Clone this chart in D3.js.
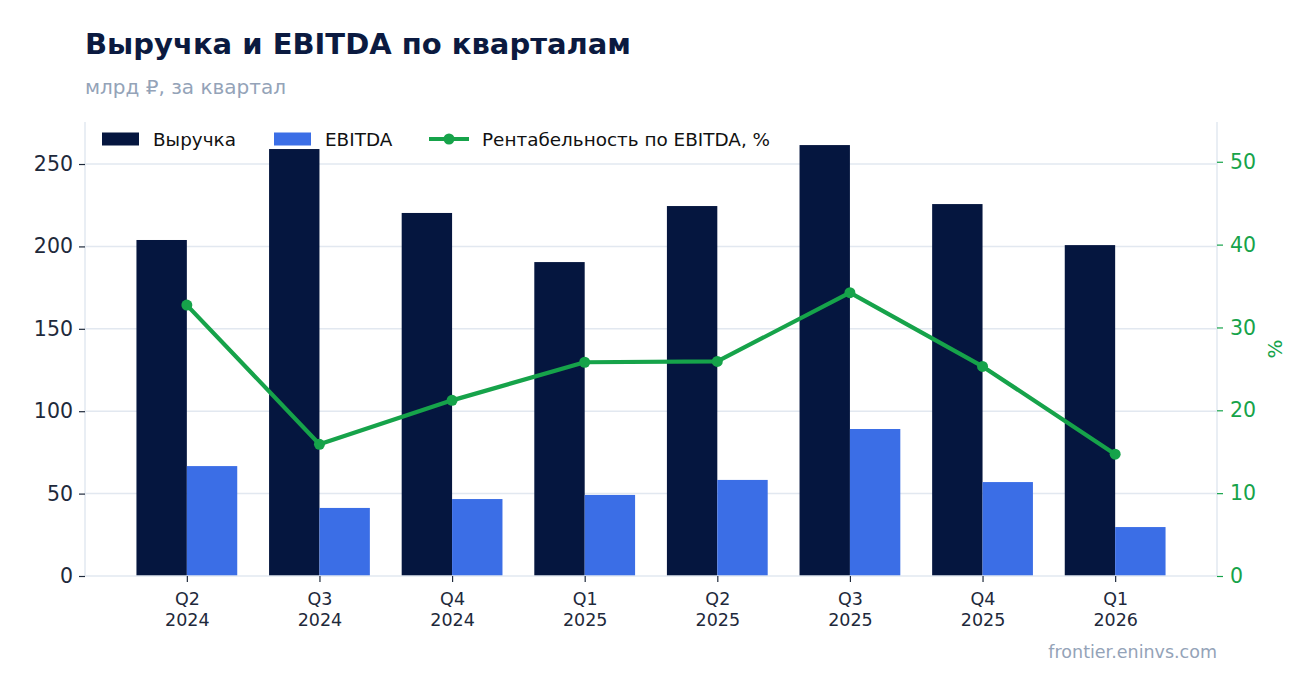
<!DOCTYPE html>
<html>
<head>
<meta charset="utf-8">
<script src="https://cdn.jsdelivr.net/npm/d3@7"></script>
<style>
  html, body { margin: 0; padding: 0; background: #fff; }
  svg { display: block; font-family: "DejaVu Sans", sans-serif; }
</style>
</head>
<body>
<div id="chart"></div>
<script>
// Quarters and values (bn RUB per quarter)
const quarters = ['Q2 2024', 'Q3 2024', 'Q4 2024', 'Q1 2025', 'Q2 2025', 'Q3 2025', 'Q4 2025', 'Q1 2026'];
const revenue = [203.9, 259.1, 220.3, 190.5, 224.5, 261.5, 225.7, 200.8];
const ebitda = [66.7, 41.3, 46.7, 49.2, 58.3, 89.2, 57.0, 29.7];
const margin = [32.7, 15.9, 21.2, 25.8, 25.9, 34.2, 25.3, 14.7];
const leftTicks = [0, 50, 100, 150, 200, 250];
const rightTicks = [0, 10, 20, 30, 40, 50];

const W = 1316, H = 693;
const m = { top: 122, right: 99, bottom: 117, left: 85 };
const iw = W - m.left - m.right;
const ih = H - m.top - m.bottom;

const C = {
  rev: '#05163f',
  ebitda: '#3b6ee6',
  green: '#16a34a',
  grid: '#e2e8f0',
  text: '#1e293b',
  muted: '#94a3b8'
};

const svg = d3.select('#chart').append('svg')
  .attr('width', W)
  .attr('height', H)
  .attr('viewBox', `0 0 ${W} ${H}`);

// Title block
svg.append('text')
  .attr('x', 85).attr('y', 54)
  .attr('font-size', 29).attr('font-weight', 'bold')
  .attr('fill', '#0b1a40')
  .text('Выручка и EBITDA по кварталам');

svg.append('text')
  .attr('x', 85).attr('y', 94)
  .attr('font-size', 20)
  .attr('fill', C.muted)
  .text('млрд ₽, за квартал');

const g = svg.append('g').attr('transform', `translate(${m.left},${m.top})`);

// Scales
const x = d3.scalePoint().domain(quarters).range([0, iw]).padding(0.768);
const step = x.step();
const barW = step * 0.38;

const y = d3.scaleLinear().domain([0, 275.5]).range([ih, 0]);
const y2 = d3.scaleLinear().domain([0, 54.8]).range([ih, 0]);

// Grid
g.append('g').selectAll('line')
  .data(leftTicks.slice(1))
  .enter().append('line')
  .attr('x1', 0).attr('x2', iw)
  .attr('y1', d => y(d)).attr('y2', d => y(d))
  .attr('stroke', C.grid).attr('stroke-width', 1.5);

// Bars
g.append('g').selectAll('rect')
  .data(quarters)
  .enter().append('rect')
  .attr('x', d => x(d) - barW)
  .attr('y', (d, i) => y(revenue[i]))
  .attr('width', barW)
  .attr('height', (d, i) => ih - y(revenue[i]))
  .attr('fill', C.rev);

g.append('g').selectAll('rect')
  .data(quarters)
  .enter().append('rect')
  .attr('x', d => x(d))
  .attr('y', (d, i) => y(ebitda[i]))
  .attr('width', barW)
  .attr('height', (d, i) => ih - y(ebitda[i]))
  .attr('fill', C.ebitda);

// Spines
g.append('line').attr('x1', 0).attr('x2', 0).attr('y1', 0).attr('y2', ih)
  .attr('stroke', C.grid).attr('stroke-width', 1.5);
g.append('line').attr('x1', iw).attr('x2', iw).attr('y1', 0).attr('y2', ih)
  .attr('stroke', C.grid).attr('stroke-width', 1.5);
g.append('line').attr('x1', 0).attr('x2', iw).attr('y1', ih).attr('y2', ih)
  .attr('stroke', C.grid).attr('stroke-width', 1.5);

// Margin line
const line = d3.line()
  .x((d, i) => x(quarters[i]))
  .y(d => y2(d));

g.append('path')
  .datum(margin)
  .attr('d', line)
  .attr('fill', 'none')
  .attr('stroke', C.green)
  .attr('stroke-width', 4.2)
  .attr('stroke-linejoin', 'round');

g.append('g').selectAll('circle')
  .data(margin)
  .enter().append('circle')
  .attr('cx', (d, i) => x(quarters[i]))
  .attr('cy', d => y2(d))
  .attr('r', 5.5)
  .attr('fill', C.green);

// Left axis
const yAxis = g.append('g')
  .call(d3.axisLeft(y).tickValues(leftTicks).tickSize(6).tickPadding(6));
yAxis.select('.domain').remove();
yAxis.selectAll('line').attr('stroke', C.text).attr('stroke-width', 1.2);
yAxis.selectAll('text').attr('font-size', 20.5).attr('fill', C.text)
  .attr('font-family', '"DejaVu Sans", sans-serif');

// Right axis
const y2Axis = g.append('g')
  .attr('transform', `translate(${iw},0)`)
  .call(d3.axisRight(y2).tickValues(rightTicks).tickSize(6).tickPadding(7));
y2Axis.select('.domain').remove();
y2Axis.selectAll('line').attr('stroke', C.green).attr('stroke-width', 1.2);
y2Axis.selectAll('text').attr('font-size', 20.5).attr('fill', C.green)
  .attr('font-family', '"DejaVu Sans", sans-serif');

svg.append('text')
  .attr('transform', `translate(${m.left + iw + 65},${m.top + ih / 2}) rotate(-90)`)
  .attr('text-anchor', 'middle')
  .attr('font-size', 20)
  .attr('fill', C.green)
  .text('%');

// X axis
const xAxis = g.append('g')
  .attr('transform', `translate(0,${ih})`)
  .call(d3.axisBottom(x).tickSize(6).tickPadding(6).tickFormat(''));
xAxis.select('.domain').remove();
xAxis.selectAll('line').attr('stroke', C.text).attr('stroke-width', 1.2);
xAxis.selectAll('.tick').each(function (d) {
  const parts = d.split(' ');
  const t = d3.select(this).append('text')
    .attr('text-anchor', 'middle')
    .attr('font-size', 17.5)
    .attr('fill', C.text)
    .attr('font-family', '"DejaVu Sans", sans-serif');
  t.append('tspan').attr('x', 0).attr('y', 29).text(parts[0]);
  t.append('tspan').attr('x', 0).attr('y', 50).text(parts[1]);
});

// Legend
const leg = svg.append('g').attr('transform', 'translate(102,139)');
leg.append('rect').attr('x', 0).attr('y', -6.5).attr('width', 37).attr('height', 13).attr('fill', C.rev);
leg.append('text').attr('x', 51).attr('y', 6.5).attr('font-size', 18.4).attr('fill', '#111').text('Выручка');
leg.append('rect').attr('x', 172).attr('y', -6.5).attr('width', 37).attr('height', 13).attr('fill', C.ebitda);
leg.append('text').attr('x', 223).attr('y', 6.5).attr('font-size', 18.4).attr('fill', '#111').text('EBITDA');
leg.append('line').attr('x1', 327).attr('x2', 367).attr('y1', 0).attr('y2', 0)
  .attr('stroke', C.green).attr('stroke-width', 4.2);
leg.append('circle').attr('cx', 347).attr('cy', 0).attr('r', 5.5).attr('fill', C.green);
leg.append('text').attr('x', 380).attr('y', 6.5).attr('font-size', 18.4).attr('fill', '#111').text('Рентабельность по EBITDA, %');

// Source
svg.append('text')
  .attr('x', m.left + iw).attr('y', 658)
  .attr('text-anchor', 'end')
  .attr('font-size', 17.5)
  .attr('fill', C.muted)
  .text('frontier.eninvs.com');
</script>
</body>
</html>
